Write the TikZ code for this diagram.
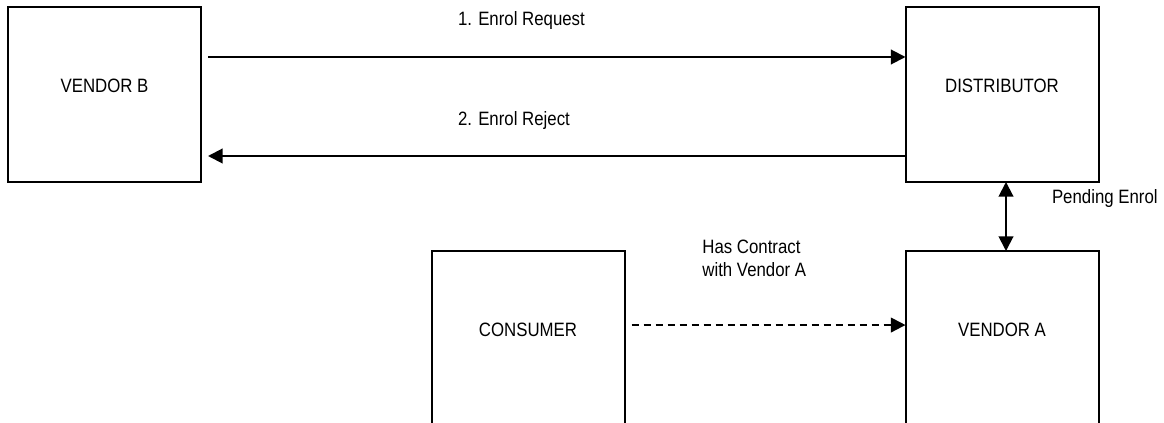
\documentclass[tikz,border=0pt]{standalone}
\usepackage{fontspec}
\setmainfont{Liberation Sans}[FakeStretch=0.87]
\usetikzlibrary{arrows.meta}
\begin{document}
\begin{tikzpicture}[>={Triangle[length=11pt,width=11pt]},x=0.75pt,y=-0.75pt,line width=1.5pt,
	font=\fontsize{14.5}{17.25}\selectfont,
	hop/.style={draw,minimum width=144.75pt,minimum height=131.25pt,inner sep=0pt,outer sep=0pt},
	tag/.style={inner sep=0pt}]
	\useasboundingbox (0,0) rectangle (1164,423);
	\clip (0,0) rectangle (1164,423); % hai hop duoi bi cat o mep duoi
	\node[hop,label={[yshift=6.4pt]center:VENDOR B}] (vendorb) at (104.5,94.5) {};
	\node[hop,label={[yshift=6.4pt]center:DISTRIBUTOR}] (distributor) at (1002,94.5) {};
	\node[hop,label={[yshift=6.4pt]center:CONSUMER}] (consumer) at (528,338.5) {};
	\node[hop,label={[yshift=6.4pt]center:VENDOR A}] (vendora) at (1002,338.5) {};
	\draw[->] ([xshift=5.25pt,yshift=-37.5pt]vendorb.north east) -- node[tag,pos=.357,anchor=west,yshift=27pt] (req) {1. Enrol Request} ([yshift=-37.5pt]distributor.north west);
	\draw[->] ([yshift=19.5pt]distributor.south west) -- node[tag,pos=.643,anchor=west,yshift=26.25pt] (rej) {2. Enrol Reject} ([xshift=5.25pt,yshift=19.5pt]vendorb.south east);
	\draw[<->] ([xshift=3pt]distributor.south) -- node[tag,pos=.24,anchor=west,xshift=33.75pt] (pend) {Pending Enrol} ([xshift=3pt]vendora.north);
	\draw[->,dash pattern=on 5.5pt off 3.5pt] ([xshift=5.25pt,yshift=10.1pt]consumer.east) -- node[tag,pos=.255,anchor=west,yshift=50pt,align=left] (contract) {Has Contract\\with Vendor A} ([yshift=10.1pt]vendora.west); % duong net dut
\end{tikzpicture}
\end{document}
